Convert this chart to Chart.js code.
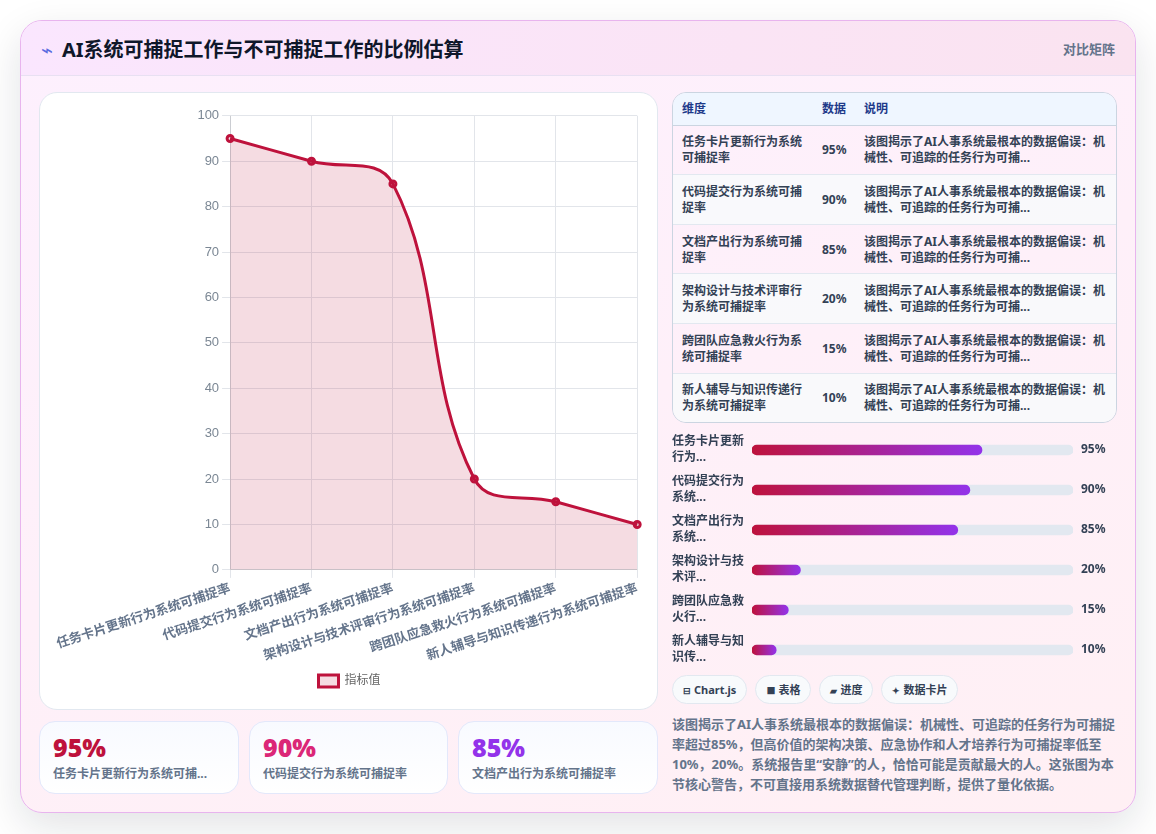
<!DOCTYPE html>
<html lang="zh-CN">
<head>
    <meta charset="UTF-8">
    <title>AI系统可捕捉工作与不可捕捉工作的比例估算</title>
    <script src="https://cdn.jsdelivr.net/npm/chart.js"></script>
    <style>
        * { box-sizing: border-box; }
        html, body { margin: 0; height: 834px; overflow: hidden; background: #fff; }
        body { font-family: "Noto Sans", "Noto Sans CJK SC", sans-serif; position: relative; width: 1156px; }
        .report {
            position: absolute; left: 20px; top: 20px; width: 1116px; height: 793px;
            border: 1px solid #e8b4ee; border-radius: 22px; overflow: hidden;
            background: linear-gradient(160deg, #fdf0fe 0%, #fff0f4 100%);
        }
        .shadow {
            position: absolute; left: 20px; top: 20px; width: 1116px; height: 793px;
            border-radius: 22px; box-shadow: 0 14px 40px rgba(15, 23, 42, .12);
        }
        .report-head {
            height: 55px; display: flex; align-items: center; justify-content: space-between;
            padding: 0 20px; border-bottom: 1px solid #e8e0f2;
            background: linear-gradient(90deg, #fae6fe, #fae3f0);
        }
        .report-head h1 { margin: 3px 0 0; font-size: 20px; font-weight: 700; color: #0f172a; line-height: 1; }
        .report-head h1 span { display: inline-block; width: 21px; font-size: 20px; color: #5b6ce0; font-weight: 400; }
        .report-head small { font-size: 13px; font-weight: 700; color: #64748b; }
        .chart-panel {
            position: absolute; left: 39px; top: 92px; width: 619px; height: 618px;
            background: #fff; border: 1px solid #e2e8f0; border-radius: 18px;
        }
        #lineChart { position: absolute; left: 14px; top: 12px; }
        .stat {
            position: absolute; top: 721px; height: 73px; padding: 9px 13px;
            border: 1px solid #e3e8fb; border-radius: 16px;
            background: linear-gradient(180deg, #f8faff, #fff);
        }
        .stat b { display: block; font-size: 25px; line-height: 32px; font-weight: 900; }
        .stat span {
            display: block; font-size: 12px; line-height: 18px; margin-top: 2px; font-weight: 700;
            color: #64748b; white-space: nowrap; overflow: hidden;
        }
        .table-wrap {
            position: absolute; left: 672px; top: 92px; width: 445px; height: 331px;
            border: 1px solid #cbd5e1; border-radius: 14px; overflow: hidden;
        }
        table { width: 100%; height: 100%; border-collapse: collapse; table-layout: fixed; font-size: 12px; line-height: 16px; font-weight: 700; color: #334155; }
        th { height: 32px; text-align: left; padding: 1px 9px 0; background: #eff6ff; color: #1e3a8a; border-bottom: 1px solid #cbd5e1; }
        td { padding: 1px 9px 0; border-bottom: 1px solid #e2e8f0; }
        tr:last-child td { border-bottom: 0; }
        tr:nth-child(even) td { background: rgba(248, 250, 252, .85); }
        #progressChart { position: absolute; left: 672px; top: 430px; }
        .chips { position: absolute; left: 672px; top: 675px; display: flex; gap: 8px; }
        .chips span {
            height: 29px; line-height: 27px; padding: 0 10px; border: 1px solid #e2e8f0; border-radius: 15px;
            background: #f8fafc; font-size: 11px; font-weight: 700; color: #334155; white-space: nowrap;
        }
        .chips i { font-style: normal; font-size: 9px; display: inline-block; margin-right: 3px; }
        .note {
            position: absolute; left: 672px; top: 714px; width: 445px; margin: 0;
            font-size: 13px; line-height: 20px; font-weight: 700; color: #64748b;
        }
    </style>
</head>
<body>
    <div class="shadow"></div>
    <div class="report">
        <div class="report-head">
            <h1><span>⌁</span>AI系统可捕捉工作与不可捕捉工作的比例估算</h1>
            <small>对比矩阵</small>
        </div>
    </div>

    <div class="chart-panel"><canvas id="lineChart" width="591" height="592"></canvas></div>
    <div id="stats"></div>

    <div class="table-wrap">
        <table>
            <colgroup><col style="width:140px"><col style="width:42px"><col></colgroup>
            <thead><tr><th>维度</th><th>数据</th><th>说明</th></tr></thead>
            <tbody id="rows"></tbody>
        </table>
    </div>

    <canvas id="progressChart" width="445" height="240"></canvas>

    <div class="chips" id="chips"></div>
    <p class="note">该图揭示了AI人事系统最根本的数据偏误：机械性、可追踪的任务行为可捕捉率超过85%，但高价值的架构决策、应急协作和人才培养行为可捕捉率低至10%，20%。系统报告里“安静”的人，恰恰可能是贡献最大的人。这张图为本节核心警告，不可直接用系统数据替代管理判断，提供了量化依据。</p>

    <script>
        const categories = ['任务卡片更新行为系统可捕捉率', '代码提交行为系统可捕捉率', '文档产出行为系统可捕捉率', '架构设计与技术评审行为系统可捕捉率', '跨团队应急救火行为系统可捕捉率', '新人辅导与知识传递行为系统可捕捉率'];
        const values = [95, 90, 85, 20, 15, 10];
        const yTicks = [0, 10, 20, 30, 40, 50, 60, 70, 80, 90, 100];
        const progressLabels = [['任务卡片更新', '行为...'], ['代码提交行为', '系统...'], ['文档产出行为', '系统...'], ['架构设计与技', '术评...'], ['跨团队应急救', '火行...'], ['新人辅导与知', '识传...']];
        const progressMax = 132.6;
        const statLabels = ['任务卡片更新行为系统可捕...', '代码提交行为系统可捕捉率', '文档产出行为系统可捕捉率'];
        const statColors = ['#be123c', '#db2777', '#9333ea'];
        const statLefts = [39, 249, 458];
        const statWidths = [200, 199, 200];
        const chipIcons = ['⊟', '■', '▰', '✦'];
        const chipLabels = ['Chart.js', '表格', '进度', '数据卡片'];
        const rowNote = '该图揭示了AI人事系统最根本的数据偏误：机械性、可追踪的任务行为可捕...';
        const cjk = '"Noto Sans", "Noto Sans CJK SC", sans-serif';

        // Table rows
        document.getElementById('rows').innerHTML = categories.map((name, i) =>
            `<tr><td>${name}</td><td>${values[i]}%</td><td>${rowNote}</td></tr>`).join('');

        // Stat cards for the first three categories
        document.getElementById('stats').innerHTML = statColors.map((color, i) =>
            `<div class="stat" style="left:${statLefts[i]}px;width:${statWidths[i]}px">
                <b style="color:${color}">${values[i]}%</b><span>${statLabels[i]}</span>
            </div>`).join('');

        document.getElementById('chips').innerHTML = chipLabels.map((c, i) => `<span><i>${chipIcons[i]}</i>${c}</span>`).join('');

        // Line chart
        new Chart(document.getElementById('lineChart'), {
            type: 'line',
            data: {
                labels: categories,
                datasets: [{
                    label: '指标值',
                    data: values,
                    borderColor: '#be123c',
                    backgroundColor: 'rgba(190, 18, 60, 0.15)',
                    borderWidth: 3,
                    pointRadius: 3,
                    pointBorderWidth: 3,
                    pointBackgroundColor: 'rgba(190, 18, 60, 0.15)',
                    fill: true,
                    tension: 0.4
                }]
            },
            options: {
                responsive: false,
                animation: false,
                scales: {
                    x: {
                        offset: false,
                        ticks: { color: '#64748b', font: { family: cjk, size: 13, weight: '700' }, minRotation: 18, maxRotation: 18, autoSkip: false },
                        grid: { color: '#e2e5ea' }
                    },
                    y: {
                        min: 0,
                        max: 100,
                        afterBuildTicks: axis => { axis.ticks = yTicks.map(value => ({ value })); },
                        ticks: { color: '#7b8794', font: { size: 13 } },
                        grid: { color: '#e2e5ea' }
                    }
                },
                plugins: {
                    legend: {
                        position: 'bottom',
                        labels: { boxWidth: 20, boxHeight: 12, padding: 8, color: '#666', font: { family: cjk, size: 12 } }
                    },
                    tooltip: { enabled: false }
                }
            }
        });

        // Progress rows: a pale track with a gradient bar on top
        function barGradient(context) {
            const chart = context.chart;
            if (!chart.chartArea || !chart.scales.x) return '#be123c';
            const x = chart.scales.x;
            const gradient = chart.ctx.createLinearGradient(x.getPixelForValue(0), 0, x.getPixelForValue(context.raw), 0);
            gradient.addColorStop(0, '#be123c');
            gradient.addColorStop(1, '#9333ea');
            return gradient;
        }

        // Side axes get fixed widths and no extra vertical padding
        function fitSideAxis(width) {
            return axis => {
                axis.width = width;
                axis.paddingTop = 0;
                axis.paddingBottom = 0;
            };
        }

        new Chart(document.getElementById('progressChart'), {
            type: 'bar',
            data: {
                labels: progressLabels,
                datasets: [
                    { data: values, backgroundColor: barGradient, barThickness: 10, borderRadius: 5, borderSkipped: false, order: 1, yAxisID: 'y' },
                    { data: values.map(() => progressMax), backgroundColor: '#e2e8f0', barThickness: 10, borderRadius: 5, borderSkipped: false, order: 2, yAxisID: 'y' }
                ]
            },
            options: {
                responsive: false,
                animation: false,
                indexAxis: 'y',
                layout: { padding: 0 },
                datasets: { bar: { grouped: false } },
                scales: {
                    x: { display: false, min: 0, max: progressMax },
                    y: {
                        position: 'left',
                        afterFit: fitSideAxis(80),
                        grid: { display: false, drawTicks: false },
                        border: { display: false },
                        ticks: { crossAlign: 'far', color: '#334155', padding: 0, font: { family: cjk, size: 12, weight: '700', lineHeight: 1.33 } }
                    },
                    y2: {
                        type: 'category',
                        position: 'right',
                        labels: values.map(v => v + '%'),
                        afterFit: fitSideAxis(44),
                        grid: { display: false, drawTicks: false },
                        border: { display: false },
                        ticks: { color: '#334155', padding: 8, font: { family: cjk, size: 12, weight: '700' } }
                    }
                },
                plugins: { legend: { display: false }, tooltip: { enabled: false } }
            }
        });
    </script>
</body>
</html>
